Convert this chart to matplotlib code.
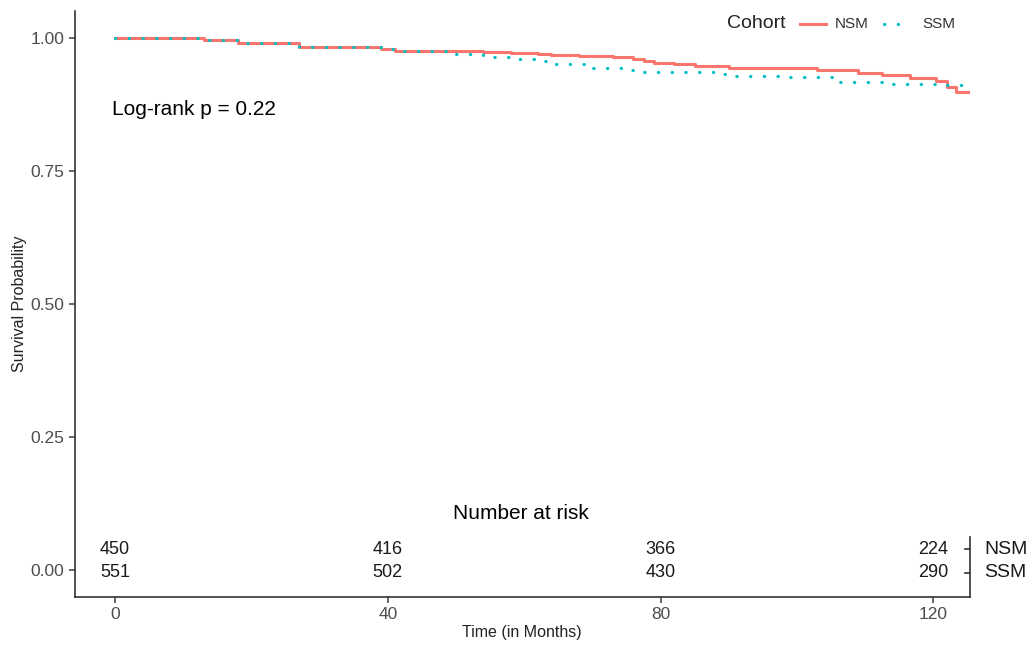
import matplotlib.pyplot as plt
import numpy as np

plt.rcParams['font.family'] = ['Liberation Sans', 'DejaVu Sans']

# Kaplan-Meier steps (months, survival)
nsm_t = [0, 13, 18, 27, 39, 41, 54, 58, 62, 64, 68, 73, 76, 77.5, 79, 82, 85, 90, 103, 109, 112.5, 116.5, 120.4, 122, 123.3, 125.5]
nsm_s = [1.0, 0.996, 0.991, 0.984, 0.979, 0.976, 0.974, 0.972, 0.970, 0.969, 0.967, 0.965, 0.961, 0.957, 0.954, 0.951, 0.948, 0.944, 0.940, 0.934, 0.930, 0.925, 0.919, 0.908, 0.899, 0.899]

ssm_t = [0, 13, 18, 27, 39, 41, 50, 54, 59, 62, 63.5, 69, 75, 77, 89, 90, 99, 106, 114, 122, 125]
ssm_s = [1.0, 0.996, 0.991, 0.984, 0.979, 0.976, 0.970, 0.965, 0.961, 0.957, 0.951, 0.943, 0.940, 0.937, 0.932, 0.929, 0.926, 0.918, 0.914, 0.912, 0.912]

risk_times = [0, 40, 80, 120]
risk_nsm = [450, 416, 366, 224]
risk_ssm = [551, 502, 430, 290]

red = '#F8766D'
teal = '#00BFC4'
grey = '#4D4D4D'
dots = (0, (0.1, 4.2))

fig = plt.figure(figsize=(10.33, 6.49), dpi=100)
ax = fig.add_axes([0.0726, 0.0801, 0.866, 0.9023])

ax.plot(nsm_t, nsm_s, color=red, lw=2.2, drawstyle='steps-post')
ax.plot(ssm_t, ssm_s, color=teal, lw=2.3, drawstyle='steps-post',
        linestyle=dots, dash_capstyle='round')

ax.set_xlim(-5.86, 125.3)
ax.set_ylim(-0.05, 1.05)
ax.set_xticks([0, 40, 80, 120])
ax.set_yticks([0, 0.25, 0.5, 0.75, 1.0])
ax.set_yticklabels(['0.00', '0.25', '0.50', '0.75', '1.00'])
ax.tick_params(colors=grey, labelsize=12.5, length=4, width=1.2)
for sp in ['top', 'right']:
    ax.spines[sp].set_visible(False)
for sp in ['left', 'bottom']:
    ax.spines[sp].set_color('#333333')
    ax.spines[sp].set_linewidth(1.2)

ax.set_ylabel('Survival Probability', fontsize=11.5, color='#222222', labelpad=3)
ax.set_xlabel('Time (in Months)', fontsize=11.5, color='#222222', labelpad=2)

ax.text(-0.5, 0.865, 'Log-rank p = 0.22', fontsize=15, color='black', va='center', ha='left')

# risk table inside the panel
ax.text(59.5, 0.107, 'Number at risk', fontsize=15, ha='center', va='center')
for t, n1, n2 in zip(risk_times, risk_nsm, risk_ssm):
    ax.text(t, 0.04, str(n1), fontsize=13, ha='center', va='center', color='#1a1a1a')
    ax.text(t, -0.004, str(n2), fontsize=13, ha='center', va='center', color='#1a1a1a')

# right-hand strata axis of the risk table
ax.plot([125.3, 125.3], [-0.05, 0.062], color='#333333', lw=1.2, clip_on=False)
for yy, lab in [(0.04, 'NSM'), (-0.004, 'SSM')]:
    ax.plot([124.6, 125.3], [yy, yy], color='#333333', lw=1.2, clip_on=False)
    ax.text(127.4, yy, lab, fontsize=14, ha='left', va='center', color='#1a1a1a')

# legend drawn at the top right
ly = 1 - 24 / 649
fig.text(727 / 1033, ly, 'Cohort', fontsize=14, va='center', ha='left', color='#222222')
fig.add_artist(plt.Line2D([800 / 1033, 826 / 1033], [ly] * 2, color=red, lw=2.2))
fig.text(835 / 1033, ly, 'NSM', fontsize=11, va='center', ha='left', color='#333333')
fig.add_artist(plt.Line2D([884 / 1033, 908 / 1033], [ly] * 2, color=teal, lw=2.3,
                          linestyle=dots, dash_capstyle='round'))
fig.text(922 / 1033, ly, 'SSM', fontsize=11, va='center', ha='left', color='#333333')

fig.savefig('out.png', dpi=100)
